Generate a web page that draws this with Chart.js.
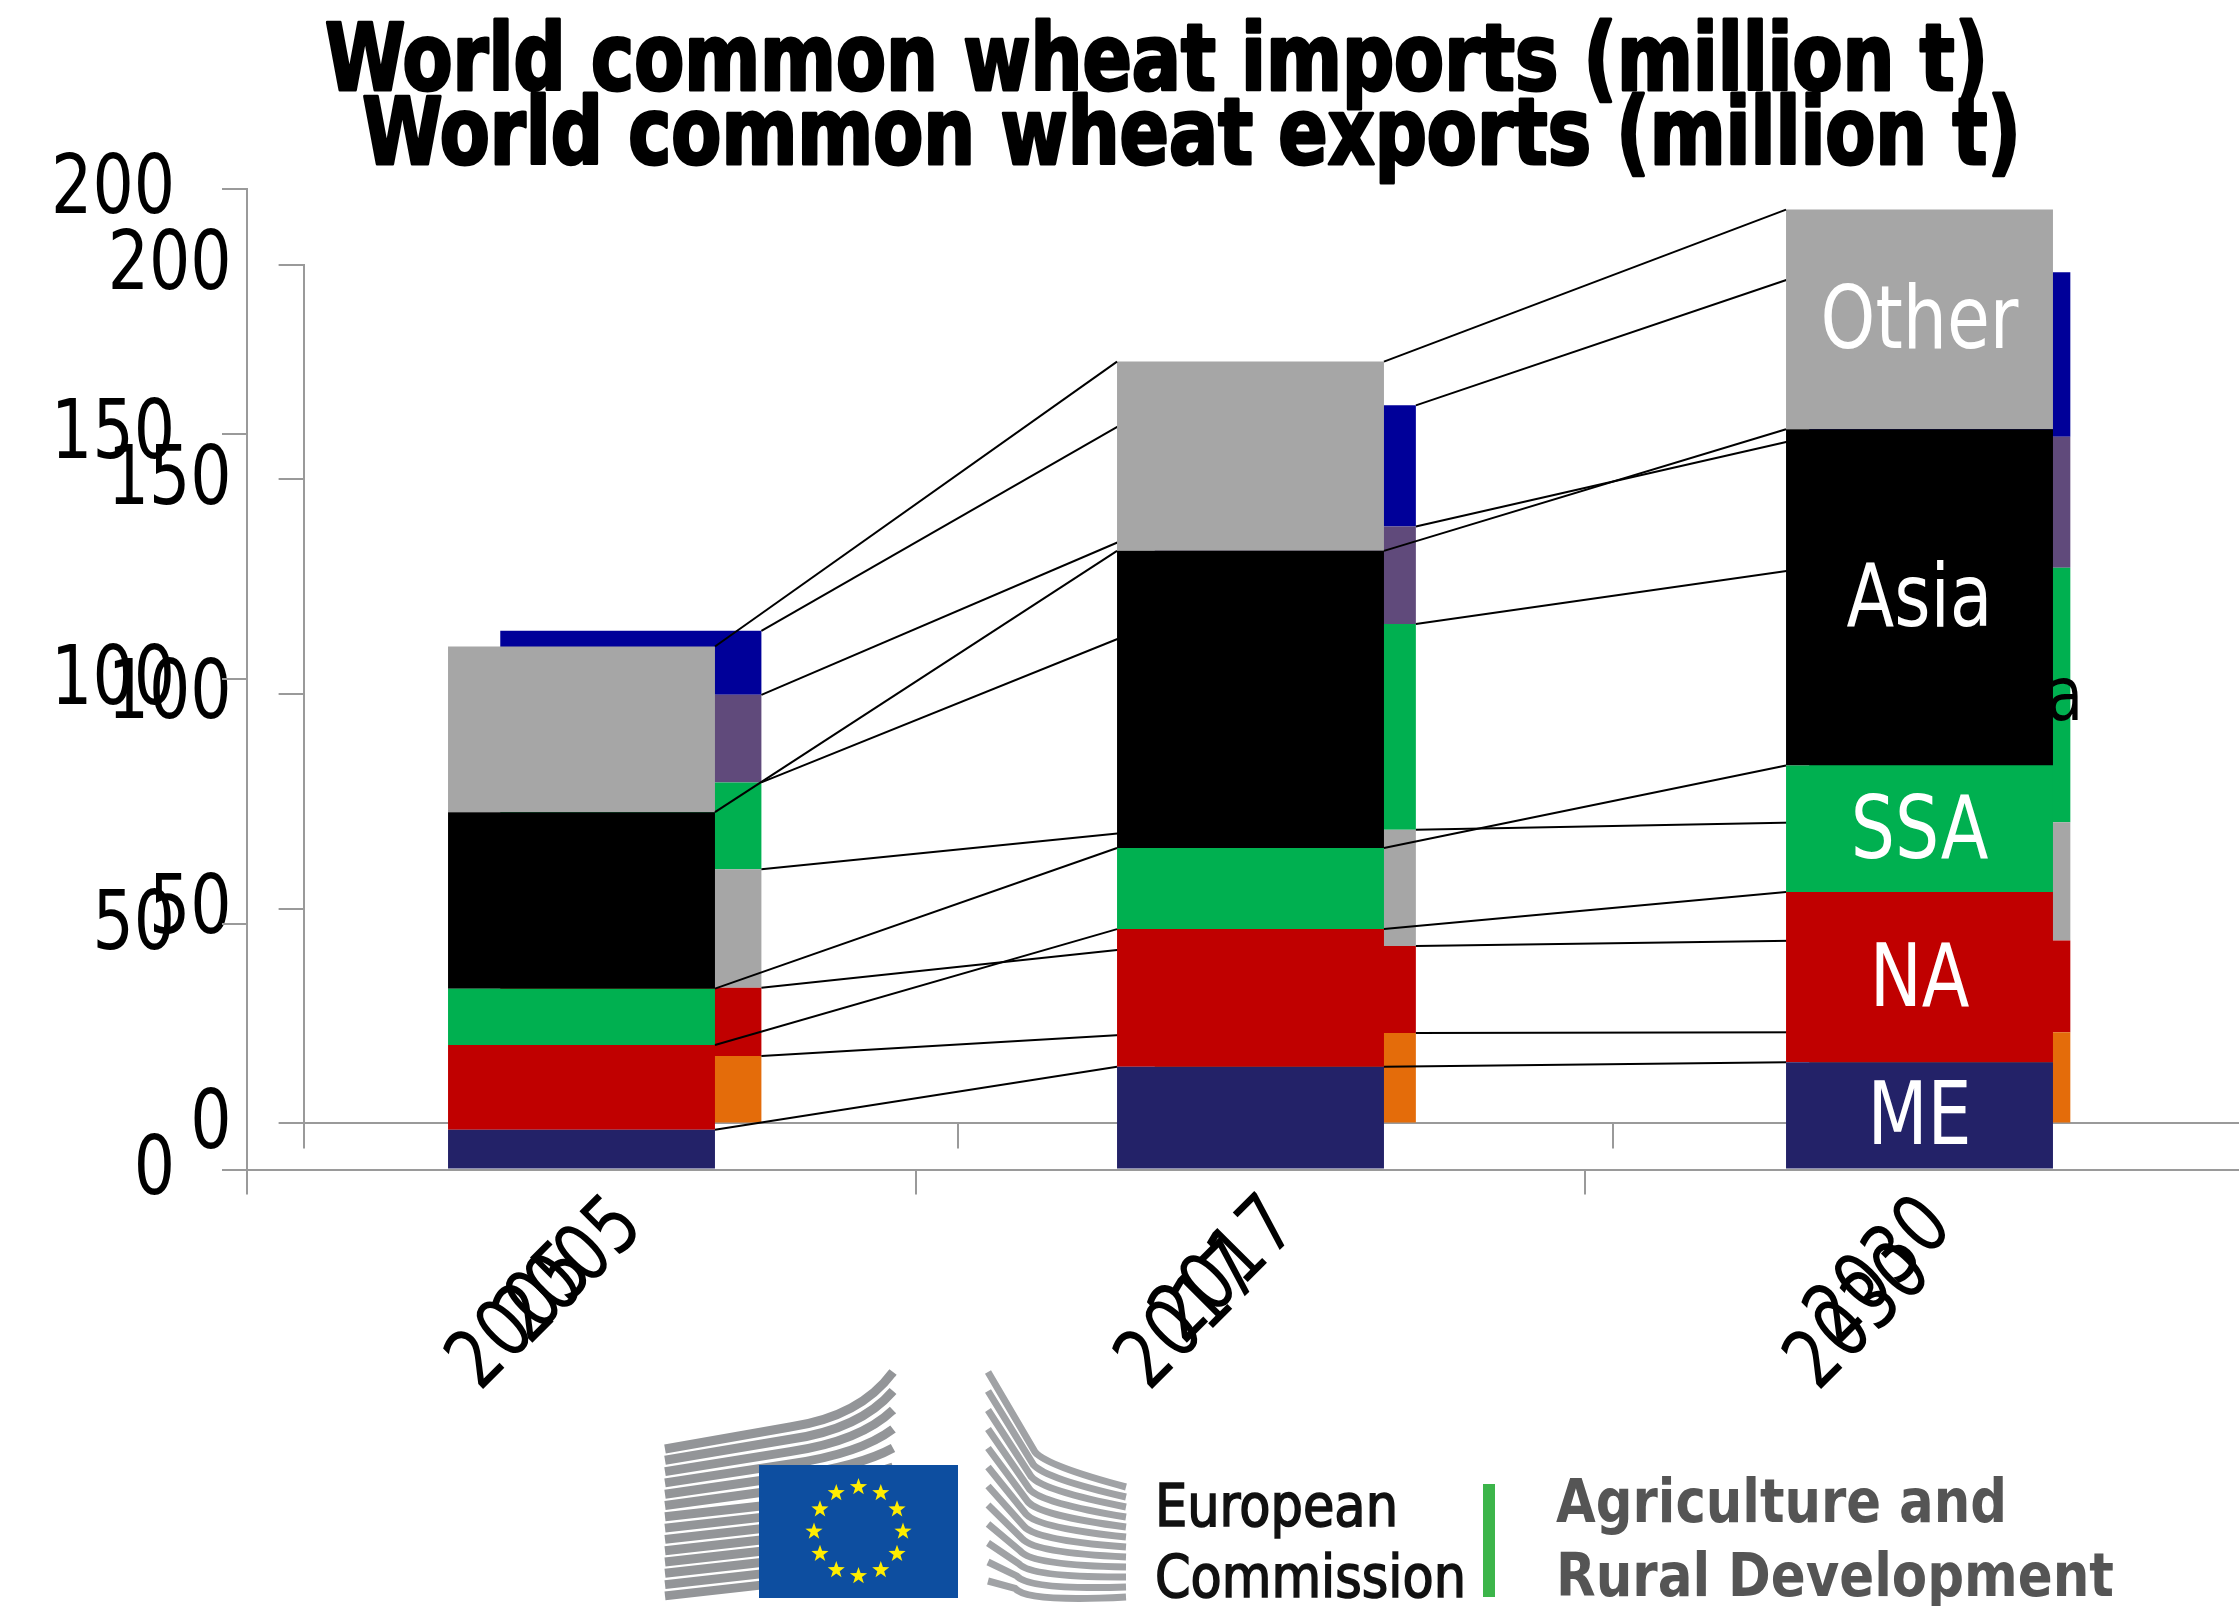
<!DOCTYPE html>
<html>
<head>
<meta charset="utf-8">
<title>World common wheat imports and exports</title>
<script src="https://cdn.jsdelivr.net/npm/chart.js@4/dist/chart.umd.min.js"></script>
<style>
    html, body { margin: 0; padding: 0; background: #fff; width: 2239px; height: 1606px; overflow: hidden; }
    canvas { position: absolute; left: 0; top: 0; }
    #logo { position: absolute; left: 0; top: 0; }
</style>
</head>
<body>
<canvas id="exportsChart" width="2383" height="1606"></canvas>
<canvas id="importsChart" width="2314" height="1606"></canvas>
<svg id="logo" width="2239" height="1606" xmlns="http://www.w3.org/2000/svg"></svg>
<script>
const years = ['2005', '2017', '2030'];

// imports, bottom to top
const importsME = [8.15, 20.96, 21.9];
const importsNA = [17.25, 28.09, 34.7];
const importsSSA = [11.5, 16.55, 25.8];
const importsAsia = [36, 60.6, 68.6];
const importsOther = [33.8, 38.6, 44.8];

// exports, bottom to top
const exportsOrange = [15.7, 21.05, 21.2];
const exportsRed = [15.9, 20.25, 21.4];
const exportsGray = [27.6, 27.1, 27.5];
const exportsGreen = [20.2, 47.9, 59.3];
const exportsPurple = [20.4, 22.7, 30.5];
const exportsBlue = [14.9, 28.2, 38.3];

const AXIS_GRAY = '#9a9a9a';
const FONT = '"DejaVu Sans Condensed", "DejaVu Sans", sans-serif';
const TEXT_SQUEEZE = 0.88; // the original font is narrower than anything installed

// squeeze all text of a canvas around its anchor point, bold text gets heavier too
function squeezeText(canvas) {
    const ctx = canvas.getContext('2d');
    const fillText = ctx.fillText;
    ctx.fillText = function (text, x, y, maxWidth) {
        ctx.save();
        ctx.translate(x, y);
        ctx.scale(TEXT_SQUEEZE, 1);
        fillText.call(ctx, text, 0, 0, maxWidth);
        if (ctx.font.includes('bold')) {
            ctx.strokeStyle = ctx.fillStyle;
            ctx.lineWidth = 3;
            ctx.lineJoin = 'round';
            ctx.strokeText(text, 0, 0);
        }
        ctx.restore();
    };
}

// thin black lines joining the top of each segment to the next bar
const seriesLines = {
    id: 'seriesLines',
    afterDatasetsDraw(chart) {
        const ctx = chart.ctx;
        ctx.save();
        ctx.strokeStyle = '#000';
        ctx.lineWidth = 2;
        chart.data.datasets.forEach((ds, i) => {
            const bars = chart.getDatasetMeta(i).data;
            for (let k = 0; k < bars.length - 1; k++) {
                ctx.beginPath();
                ctx.moveTo(bars[k].x + bars[k].width / 2, bars[k].y);
                ctx.lineTo(bars[k + 1].x - bars[k + 1].width / 2, bars[k + 1].y);
                ctx.stroke();
            }
        });
        ctx.restore();
    }
};

// segment names, only on the last bar
const barLabels = {
    id: 'barLabels',
    afterDatasetsDraw(chart) {
        const ctx = chart.ctx;
        ctx.save();
        ctx.textAlign = 'center';
        ctx.textBaseline = 'middle';
        chart.data.datasets.forEach((ds, i) => {
            if (!ds.segmentLabel) return;
            const bars = chart.getDatasetMeta(i).data;
            const bar = bars[bars.length - 1];
            ctx.font = `${ds.segmentSize}px ${FONT}`;
            ctx.fillStyle = ds.segmentColor;
            ctx.fillText(ds.segmentLabel, bar.x, (bar.y + bar.base) / 2 + 6);
        });
        ctx.restore();
    }
};

// the titles sit off-centre in the original
const titleShift = {
    id: 'titleShift',
    afterLayout(chart, args, opts) {
        chart.titleBlock.left += opts.dx;
        chart.titleBlock.right += opts.dx;
    }
};

function makeChart(id, titleText, datasets, axisLeft, axisBottom, titleTop, titleBottom, layoutRight, titleDx) {
    const canvas = document.getElementById(id);
    squeezeText(canvas);
    return new Chart(canvas, {
        type: 'bar',
        data: { labels: years, datasets: datasets },
        plugins: [titleShift, seriesLines, barLabels],
        options: {
            responsive: false,
            animation: false,
            devicePixelRatio: 1,
            layout: { padding: { right: layoutRight } },
            datasets: { bar: { categoryPercentage: 1, barPercentage: 0.399, borderWidth: 0 } },
            plugins: {
                legend: { display: false },
                tooltip: { enabled: false },
                titleShift: { dx: titleDx },
                title: {
                    display: true,
                    text: titleText,
                    color: '#000',
                    font: { family: FONT, size: 92, weight: 'bold', lineHeight: 1 },
                    padding: { top: titleTop, bottom: titleBottom }
                }
            },
            scales: {
                x: {
                    stacked: true,
                    afterFit(s) { s.height = 1606 - axisBottom; },
                    grid: { offset: true, drawOnChartArea: false, tickLength: 25, color: AXIS_GRAY, lineWidth: 2 },
                    border: { color: AXIS_GRAY, width: 2 },
                    ticks: { color: '#000', font: { family: FONT, size: 82 }, minRotation: 45, maxRotation: 45, autoSkip: false, padding: 31 }
                },
                y: {
                    stacked: true,
                    min: 0,
                    max: 200,
                    afterFit(s) { s.width = axisLeft; },
                    grid: { drawOnChartArea: false, tickLength: 25, color: AXIS_GRAY, lineWidth: 2 },
                    border: { color: AXIS_GRAY, width: 2 },
                    ticks: { stepSize: 50, color: '#000', font: { family: FONT, size: 82 }, padding: 47, labelOffset: 3 }
                }
            }
        }
    });
}

makeChart('exportsChart', 'World common wheat exports (million t)', [
    { data: exportsOrange, backgroundColor: '#e46c0a' },
    { data: exportsRed, backgroundColor: '#c00000' },
    { data: exportsGray, backgroundColor: '#a6a6a6' },
    { data: exportsGreen, backgroundColor: '#00b050', segmentLabel: 'Black Sea', segmentColor: '#000', segmentSize: 74 },
    { data: exportsPurple, backgroundColor: '#604a7b' },
    { data: exportsBlue, backgroundColor: '#000099' }
], 303.6, 1123.4, 94, 78.5, 116, 58);

makeChart('importsChart', 'World common wheat imports (million t)', [
    { data: importsME, backgroundColor: '#232268', segmentLabel: 'ME', segmentColor: '#fff', segmentSize: 88 },
    { data: importsNA, backgroundColor: '#c00000', segmentLabel: 'NA', segmentColor: '#fff', segmentSize: 88 },
    { data: importsSSA, backgroundColor: '#00b050', segmentLabel: 'SSA', segmentColor: '#fff', segmentSize: 88 },
    { data: importsAsia, backgroundColor: '#000', segmentLabel: 'Asia', segmentColor: '#fff', segmentSize: 88 },
    { data: importsOther, backgroundColor: '#a6a6a6', segmentLabel: 'Other', segmentColor: '#fff', segmentSize: 88 }
], 247, 1169.6, 20, 77, 60, 29.5);

// European Commission logo
function drawLogo() {
    let s = '';
    for (let i = 0; i < 14; i++) {
        const y0 = 1449 + i * 11.3;
        if (i < 6) {
            const yEnd = 1372 + i * 19;
            s += `<path d="M665 ${y0} L790 ${y0 - 22 + i} Q860 ${y0 - 32 + i} 893 ${yEnd}" fill="none" stroke="#939598" stroke-width="9"/>`;
        } else {
            s += `<path d="M665 ${y0} L790 ${y0 - 14}" fill="none" stroke="#939598" stroke-width="9"/>`;
        }
    }
    for (let i = 0; i < 12; i++) {
        const yL = 1372 + i * 19;
        const yR = 1487 + i * 10;
        const t = i / 11;
        const mx = 1035 - t * 20;
        const my = yL + (yR - 28 + 20 * t - yL) * 0.92;
        s += `<path d="M988 ${yL} L${mx} ${my} Q${mx + 12} ${my + 14} 1126 ${yR}" fill="none" stroke="#a0a2a5" stroke-width="7"/>`;
    }
    s += '<rect x="759" y="1465" width="199" height="133" fill="#0d4ea0"/>';
    for (let k = 0; k < 12; k++) {
        const a = k * Math.PI / 6;
        const cx = 858.5 + 44.5 * Math.sin(a);
        const cy = 1531.5 - 44.5 * Math.cos(a);
        let pts = '';
        for (let j = 0; j < 10; j++) {
            const r = j % 2 ? 3.6 : 9;
            const b = j * Math.PI / 5;
            pts += `${(cx + r * Math.sin(b)).toFixed(1)},${(cy - r * Math.cos(b)).toFixed(1)} `;
        }
        s += `<polygon points="${pts}" fill="#ffed00"/>`;
    }
    s += `<text x="1155" y="1526" font-family='${FONT}' font-size="58" fill="#111" stroke="#111" stroke-width="1.5" textLength="243" lengthAdjust="spacingAndGlyphs">European</text>`;
    s += `<text x="1155" y="1597" font-family='${FONT}' font-size="58" fill="#111" stroke="#111" stroke-width="1.5" textLength="311" lengthAdjust="spacingAndGlyphs">Commission</text>`;
    s += '<rect x="1483" y="1484" width="12" height="113" fill="#3cb54a"/>';
    s += `<text x="1556" y="1522" font-family='${FONT}' font-size="60" font-weight="bold" fill="#555" textLength="451" lengthAdjust="spacingAndGlyphs">Agriculture and</text>`;
    s += `<text x="1556" y="1596" font-family='${FONT}' font-size="60" font-weight="bold" fill="#555" textLength="558" lengthAdjust="spacingAndGlyphs">Rural Development</text>`;
    document.getElementById('logo').innerHTML = s;
}
drawLogo();
</script>
</body>
</html>
